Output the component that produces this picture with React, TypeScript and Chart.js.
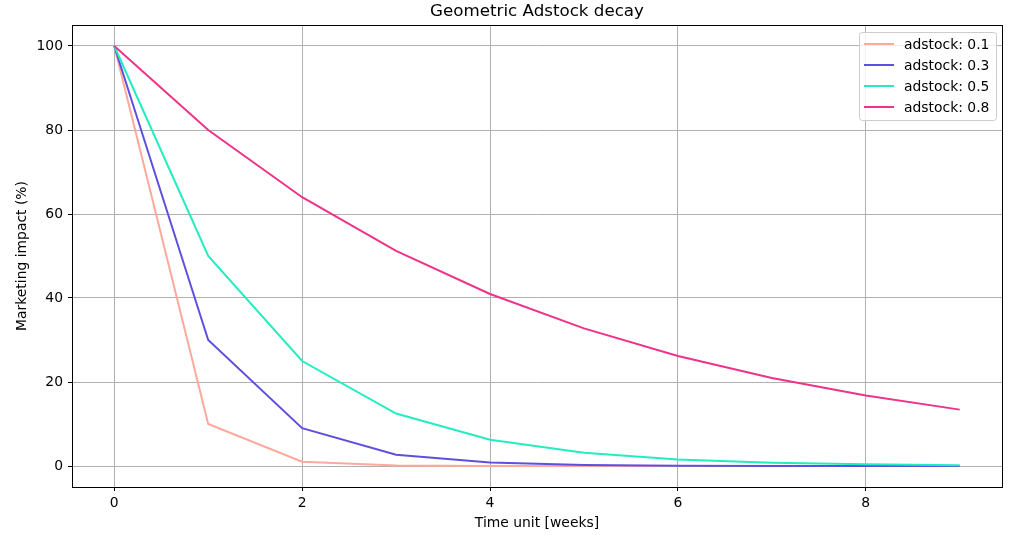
import React, { useEffect, useRef } from "react";
import { Chart, registerables } from "chart.js";

Chart.register(...registerables);

const weeks = [0, 1, 2, 3, 4, 5, 6, 7, 8, 9];
const adstock01 = [100, 10, 1, 0.1, 0.01, 0.001, 0.0001, 0, 0, 0];
const adstock03 = [100, 30, 9, 2.7, 0.81, 0.24, 0.07, 0.02, 0.01, 0];
const adstock05 = [100, 50, 25, 12.5, 6.25, 3.13, 1.56, 0.78, 0.39, 0.2];
const adstock08 = [100, 80, 64, 51.2, 40.96, 32.77, 26.21, 20.97, 16.78, 13.42];
const seriesLabels = ["adstock: 0.1", "adstock: 0.3", "adstock: 0.5", "adstock: 0.8"];
const colors = ["#FFA89C", "#5E50DF", "#23EDC0", "#EE3388"];
const xTicks = [0, 2, 4, 6, 8];
const yTicks = [0, 20, 40, 60, 80, 100];
const FONT = "'DejaVu Sans', sans-serif";

export default function App() {
  const ref = useRef<HTMLCanvasElement | null>(null);
  useEffect(() => {
    const ctx = ref.current!;
    const all = [adstock01, adstock03, adstock05, adstock08];
    const overlay = {
      id: "overlay",
      afterDraw(chart: any) {
        const c = chart.ctx;
        const a = chart.chartArea;
        c.save();
        c.strokeStyle = "#000";
        c.lineWidth = 1;
        c.strokeRect(Math.round(a.left) + 0.5, Math.round(a.top) + 0.5, Math.round(a.right - a.left), Math.round(a.bottom - a.top));
        c.fillStyle = "#000";
        c.font = `16.7px ${FONT}`;
        c.textAlign = "center";
        c.textBaseline = "middle";
        c.fillText("Geometric Adstock decay", (a.left + a.right) / 2, 12);
        c.font = `13.9px ${FONT}`;
        c.fillText("Time unit [weeks]", (a.left + a.right) / 2, 523);
        c.save();
        c.translate(22, (a.top + a.bottom) / 2);
        c.rotate(-Math.PI / 2);
        c.fillText("Marketing impact (%)", 0, 0);
        c.restore();
        // legend
        const lx = 859, ly = 32, lw = 137, lh = 88;
        c.fillStyle = "rgba(255,255,255,0.8)";
        c.strokeStyle = "#cccccc";
        c.beginPath();
        (c as any).roundRect(lx + 0.5, ly + 0.5, lw, lh, 3);
        c.fill();
        c.stroke();
        c.textAlign = "left";
        c.font = `13.9px ${FONT}`;
        seriesLabels.forEach((lab, i) => {
          const y = 44 + i * 21;
          c.strokeStyle = colors[i];
          c.lineWidth = 2;
          c.beginPath();
          c.moveTo(864, y);
          c.lineTo(894, y);
          c.stroke();
          c.fillStyle = "#000";
          c.fillText(lab, 904, y + 1);
        });
        c.restore();
      },
    };
    const chart = new Chart(ctx, {
      type: "line",
      data: {
        labels: weeks,
        datasets: all.map((d, i) => ({
          label: seriesLabels[i],
          data: d.map((v, j) => ({ x: weeks[j], y: v })),
          borderColor: colors[i],
          backgroundColor: colors[i],
          borderWidth: 2,
          pointRadius: 0,
          tension: 0,
          fill: false,
          order: 3 - i,
        })),
      },
      options: {
        animation: false,
        responsive: false,
        layout: { padding: { top: 25, right: 18, left: 0, bottom: 0 } },
        plugins: { legend: { display: false }, title: { display: false }, tooltip: { enabled: false } },
        scales: {
          x: {
            type: "linear",
            min: -0.45,
            max: 9.45,
            afterBuildTicks: (s: any) => { s.ticks = xTicks.map((v) => ({ value: v })); },
            afterFit: (s: any) => { s.height = 50; },
            grid: { color: "#b0b0b0", lineWidth: 1, tickColor: "#000", tickLength: 4, drawTicks: true },
            border: { color: "#000", width: 1 },
            ticks: { color: "#000", font: { family: FONT, size: 13.9 }, padding: 4, maxRotation: 0 },
          },
          y: {
            type: "linear",
            min: -5,
            max: 105,
            afterBuildTicks: (s: any) => { s.ticks = yTicks.map((v) => ({ value: v })); },
            afterFit: (s: any) => { s.width = 72; },
            grid: { color: "#b0b0b0", lineWidth: 1, tickColor: "#000", tickLength: 4, drawTicks: true },
            border: { color: "#000", width: 1 },
            ticks: { color: "#000", font: { family: FONT, size: 13.9 }, padding: 5 },
          },
        },
      },
      plugins: [overlay],
    } as any);
    return () => chart.destroy();
  }, []);
  return (
    <div style={{ position: "absolute", left: 0, top: 0, width: 1020, height: 537, background: "#fff" }}>
      <canvas ref={ref} width={1020} height={537} style={{ width: 1020, height: 537 }} />
    </div>
  );
}
